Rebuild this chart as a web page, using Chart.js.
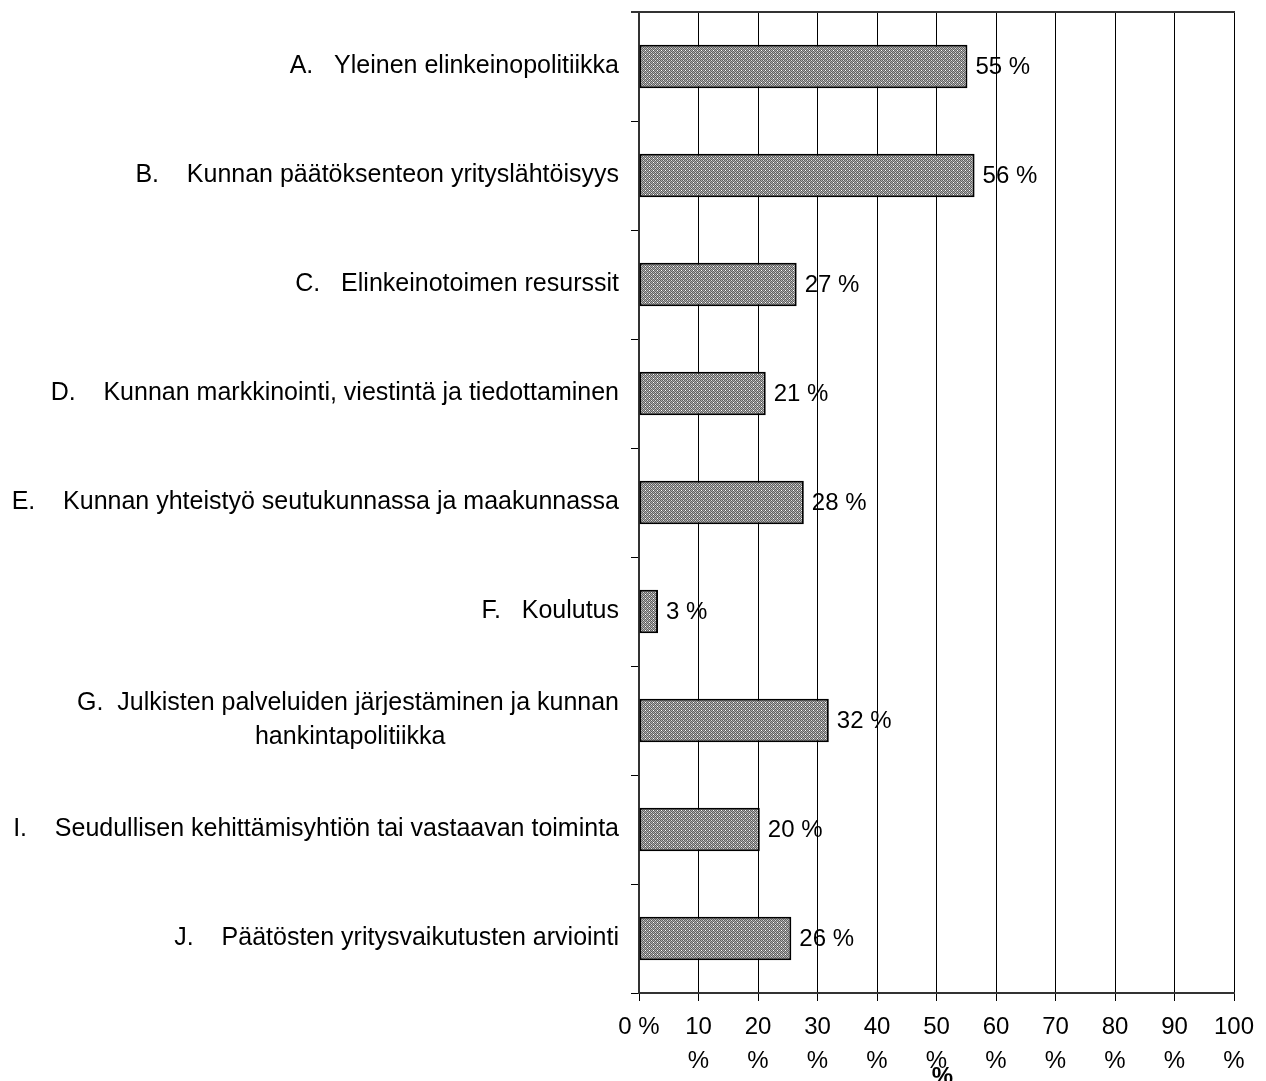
<!DOCTYPE html>
<html>
<head>
<meta charset="utf-8">
<script src="https://cdn.jsdelivr.net/npm/chart.js@4/dist/chart.umd.min.js"></script>
<style>
  html, body { margin: 0; padding: 0; background: #fff; }
  #wrap { width: 1266px; height: 1081px; }
</style>
</head>
<body>
<div id="wrap"><canvas id="c" width="1266" height="1081"></canvas></div>
<script>
// ---- data ----
const categories = [
  "A.   Yleinen elinkeinopolitiikka",
  "B.    Kunnan päätöksenteon yrityslähtöisyys",
  "C.   Elinkeinotoimen resurssit",
  "D.    Kunnan markkinointi, viestintä ja tiedottaminen",
  "E.    Kunnan yhteistyö seutukunnassa ja maakunnassa",
  "F.   Koulutus",
  ["G.  Julkisten palveluiden järjestäminen ja kunnan", "hankintapolitiikka"],
  "I.    Seudullisen kehittämisyhtiön tai vastaavan toiminta",
  "J.    Päätösten yritysvaikutusten arviointi"
];
const values = [55.2, 56.4, 26.5, 21.3, 27.7, 3.2, 31.9, 20.3, 25.6];
const xTickValues = [0, 10, 20, 30, 40, 50, 60, 70, 80, 90, 100];
const axisTitle = "%";

const FONT = "'Liberation Sans', Arial, sans-serif";
const LABEL_SIZE = 25;
const TICK_SIZE = 24;

// crosshatch pattern
function makePattern() {
  const p = document.createElement('canvas');
  p.width = 4; p.height = 4;
  const g = p.getContext('2d');
  for (let y = 0; y < 4; y++) {
    for (let x = 0; x < 4; x++) {
      let col = ((x + y) % 2 === 0) ? '#606060' : '#ababab';
      if (x === 1 && y === 2) col = '#ffffff';
      if (x === 3 && y === 0) col = '#d8d8d8';
      g.fillStyle = col;
      g.fillRect(x, y, 1, 1);
    }
  }
  return document.getElementById('c').getContext('2d').createPattern(p, 'repeat');
}

// center second line of multi-line labels under the first
const measureCtx = document.createElement('canvas').getContext('2d');
measureCtx.font = LABEL_SIZE + "px " + FONT;
function labelFor(lbl) {
  if (!Array.isArray(lbl)) return lbl;
  const w0 = measureCtx.measureText(lbl[0]).width;
  const sp = measureCtx.measureText(' ').width;
  return lbl.map((line, i) => {
    if (i === 0) return line;
    const target = (w0 - measureCtx.measureText(line).width) / 2;
    return line + ' '.repeat(Math.max(0, Math.round(target / sp)));
  });
}

const extras = {
  id: 'extras',
  afterDatasetsDraw(chart) {
    const ctx = chart.ctx;
    const meta = chart.getDatasetMeta(0);
    ctx.save();
    ctx.font = TICK_SIZE + "px " + FONT;
    ctx.fillStyle = '#000';
    ctx.textAlign = 'left';
    ctx.textBaseline = 'middle';
    meta.data.forEach((bar, i) => {
      ctx.fillText(Math.round(values[i]) + ' %', bar.x + 8, bar.y + 1);
    });
    ctx.restore();
  },
  afterDraw(chart) {
    const ctx = chart.ctx;
    const a = chart.chartArea;
    ctx.save();
    ctx.strokeStyle = '#333';
    ctx.lineWidth = 2;
    ctx.beginPath();
    ctx.moveTo(a.left - 8, a.top);
    ctx.lineTo(a.right + 1, a.top);
    ctx.stroke();
    ctx.font = "bold " + TICK_SIZE + "px " + FONT;
    ctx.fillStyle = '#000';
    ctx.textAlign = 'center';
    ctx.textBaseline = 'middle';
    ctx.fillText(axisTitle, (a.left + a.right) / 2 + 6, 1077);
    ctx.restore();
  }
};

new Chart(document.getElementById('c'), {
  type: 'bar',
  data: {
    labels: categories,
    datasets: [{
      data: values,
      backgroundColor: makePattern(),
      borderColor: '#000',
      borderWidth: 2,
      borderSkipped: false,
      barPercentage: 0.4,
      categoryPercentage: 1.0
    }]
  },
  options: {
    indexAxis: 'y',
    responsive: false,
    animation: false,
    layout: { padding: { top: 12, right: 32, left: 0, bottom: 0 } },
    plugins: { legend: { display: false }, tooltip: { enabled: false } },
    scales: {
      x: {
        type: 'linear',
        min: 0, max: 100,
        afterBuildTicks(scale) { scale.ticks = xTickValues.map(v => ({ value: v })); },
        afterFit(scale) { scale.height = 88; scale.paddingLeft = 0; scale.paddingRight = 0; },
        ticks: {
          color: '#000',
          font: { family: FONT, size: TICK_SIZE, lineHeight: 34 / TICK_SIZE },
          padding: 9,
          maxRotation: 0,
          autoSkip: false,
          callback: (v) => v === 0 ? '0 %' : [String(v), '%']
        },
        grid: { color: '#000', lineWidth: 1, tickLength: 8, drawTicks: true },
        border: { display: true, color: '#333', width: 2 }
      },
      y: {
        type: 'category',
        afterFit(scale) { scale.width = 639; scale.paddingTop = 0; scale.paddingBottom = 0; },
        ticks: {
          color: '#000',
          font: { family: FONT, size: LABEL_SIZE, lineHeight: 34 / LABEL_SIZE },
          padding: 12,
          autoSkip: false,
          callback: function (v, i) { return labelFor(categories[i]); }
        },
        grid: { offset: true, drawOnChartArea: false, color: '#000', tickLength: 8 },
        border: { display: true, color: '#333', width: 2 }
      }
    }
  },
  plugins: [extras]
});
</script>
</body>
</html>
